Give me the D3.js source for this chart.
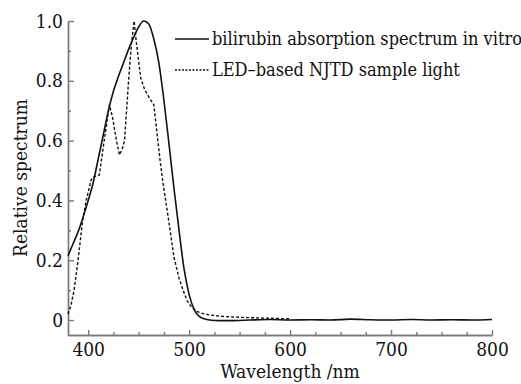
<!DOCTYPE html>
<html>
<head>
<meta charset="utf-8">
<script src="https://cdn.jsdelivr.net/npm/d3@7"></script>
<style>
  body { margin: 0; background: #fff; }
  text { font-family: "DejaVu Serif Condensed", "DejaVu Serif", serif; fill: #111; }
</style>
</head>
<body>
<div id="chart"></div>
<script>
// bilirubin absorption spectrum in vitro
var biliWl =  [380, 385, 390, 395, 400, 405, 410, 415, 420, 425, 430, 435, 440, 445, 450, 455, 460, 465, 470, 475, 480, 485, 490, 495, 500, 505, 510, 515, 520, 530, 545, 560, 580, 600, 620, 640, 660, 680, 700, 720, 740, 760, 780, 800];
var biliVal = [0.215, 0.255, 0.295, 0.345, 0.40, 0.46, 0.54, 0.62, 0.70, 0.765, 0.815, 0.86, 0.905, 0.945, 0.98, 1.0, 0.99, 0.94, 0.86, 0.735, 0.59, 0.44, 0.30, 0.17, 0.085, 0.035, 0.012, 0.004, 0.0, -0.002, -0.002, 0.0, 0.002, 0.0, 0.001, 0.0, 0.003, 0.001, 0.0, 0.002, 0.0, 0.001, 0.0, 0.002];

// LED-based NJTD sample light
var ledWl =  [380, 383, 386, 390, 394, 398, 403, 405, 411, 415, 421, 424, 428, 431, 434, 436, 440, 443, 445.5, 448, 452, 456, 462, 465, 468, 471, 474, 479, 485, 490, 494, 498, 502, 507, 512, 520, 530, 544, 560, 580, 600];
var ledVal = [0.02, 0.05, 0.10, 0.20, 0.32, 0.40, 0.47, 0.478, 0.485, 0.58, 0.72, 0.68, 0.60, 0.552, 0.575, 0.60, 0.80, 0.93, 1.0, 0.92, 0.81, 0.77, 0.735, 0.72, 0.63, 0.54, 0.46, 0.35, 0.21, 0.14, 0.10, 0.065, 0.045, 0.03, 0.023, 0.017, 0.013, 0.01, 0.008, 0.006, 0.004];

var xMajor = [400, 500, 600, 700, 800];
var xMinor = [425, 450, 475, 525, 550, 575, 625, 650, 675, 725, 750, 775];
var yMajor = [0, 0.2, 0.4, 0.6, 0.8, 1.0];
var yMinor = [0.1, 0.3, 0.5, 0.7, 0.9];
var seriesNames = ["bilirubin absorption spectrum in vitro", "LED\u2013based NJTD sample light"];

var W = 521, H = 384;
var svg = d3.select("#chart").append("svg").attr("width", W).attr("height", H);

var x = d3.scaleLinear().domain([380, 800]).range([68, 492]);
var y = d3.scaleLinear().domain([-0.05, 1.0]).range([335, 21]);
var axisCol = "#7a7a7a";

function styleAxis(g) {
  g.selectAll(".domain, line").attr("stroke", axisCol).attr("stroke-width", 1.4);
  g.selectAll("text").attr("fill", "#111").style("font-size", "19px");
}

// x axis
svg.append("g").attr("transform", "translate(0," + y(-0.05) + ")")
  .call(d3.axisBottom(x).tickValues(xMinor).tickSizeInner(-3).tickSizeOuter(0).tickFormat(""))
  .call(styleAxis);
svg.append("g").attr("transform", "translate(0," + y(-0.05) + ")")
  .call(d3.axisBottom(x).tickValues(xMajor).tickSizeInner(-5).tickSizeOuter(0).tickPadding(8))
  .call(styleAxis);

// y axis
svg.append("g").attr("transform", "translate(" + x(380) + ",0)")
  .call(d3.axisLeft(y).tickValues(yMinor).tickSizeInner(-3).tickSizeOuter(0).tickFormat(""))
  .call(styleAxis);
svg.append("g").attr("transform", "translate(" + x(380) + ",0)")
  .call(d3.axisLeft(y).tickValues(yMajor).tickSizeInner(-6).tickSizeOuter(0).tickPadding(5)
    .tickFormat(function(d) { return d === 0 ? "0" : d3.format(".1f")(d); }))
  .call(styleAxis);

// curves
var bili = biliWl.map(function(w, i) { return [w, biliVal[i]]; });
var led = ledWl.map(function(w, i) { return [w, ledVal[i]]; });

var smooth = d3.line().x(function(d) { return x(d[0]); }).y(function(d) { return y(d[1]); }).curve(d3.curveMonotoneX);
var straight = d3.line().x(function(d) { return x(d[0]); }).y(function(d) { return y(d[1]); });

svg.append("path").datum(led)
  .attr("fill", "none").attr("stroke", "#111").attr("stroke-width", 1.4)
  .attr("stroke-dasharray", "3,2").attr("d", straight);

svg.append("path").datum(bili)
  .attr("fill", "none").attr("stroke", "#111").attr("stroke-width", 1.6)
  .attr("d", smooth);

// legend
var legend = svg.append("g").attr("transform", "translate(175,39)");
seriesNames.forEach(function(name, i) {
  var row = legend.append("g").attr("transform", "translate(0," + i * 31 + ")");
  row.append("line").attr("x1", 0).attr("x2", 34).attr("y1", 0).attr("y2", 0)
    .attr("stroke", "#111").attr("stroke-width", i === 0 ? 1.6 : 1.4)
    .attr("stroke-dasharray", i === 0 ? null : "2,1.5");
  row.append("text").attr("x", 37).attr("y", 0).attr("dy", "0.35em")
    .style("font-size", "18px").text(name);
});

// axis titles
svg.append("text").attr("x", 290).attr("y", 378).attr("text-anchor", "middle")
  .style("font-size", "19px").text("Wavelength /nm");
svg.append("text").attr("transform", "translate(27,178) rotate(-90)")
  .attr("text-anchor", "middle").style("font-size", "19px").text("Relative spectrum");
</script>
</body>
</html>
